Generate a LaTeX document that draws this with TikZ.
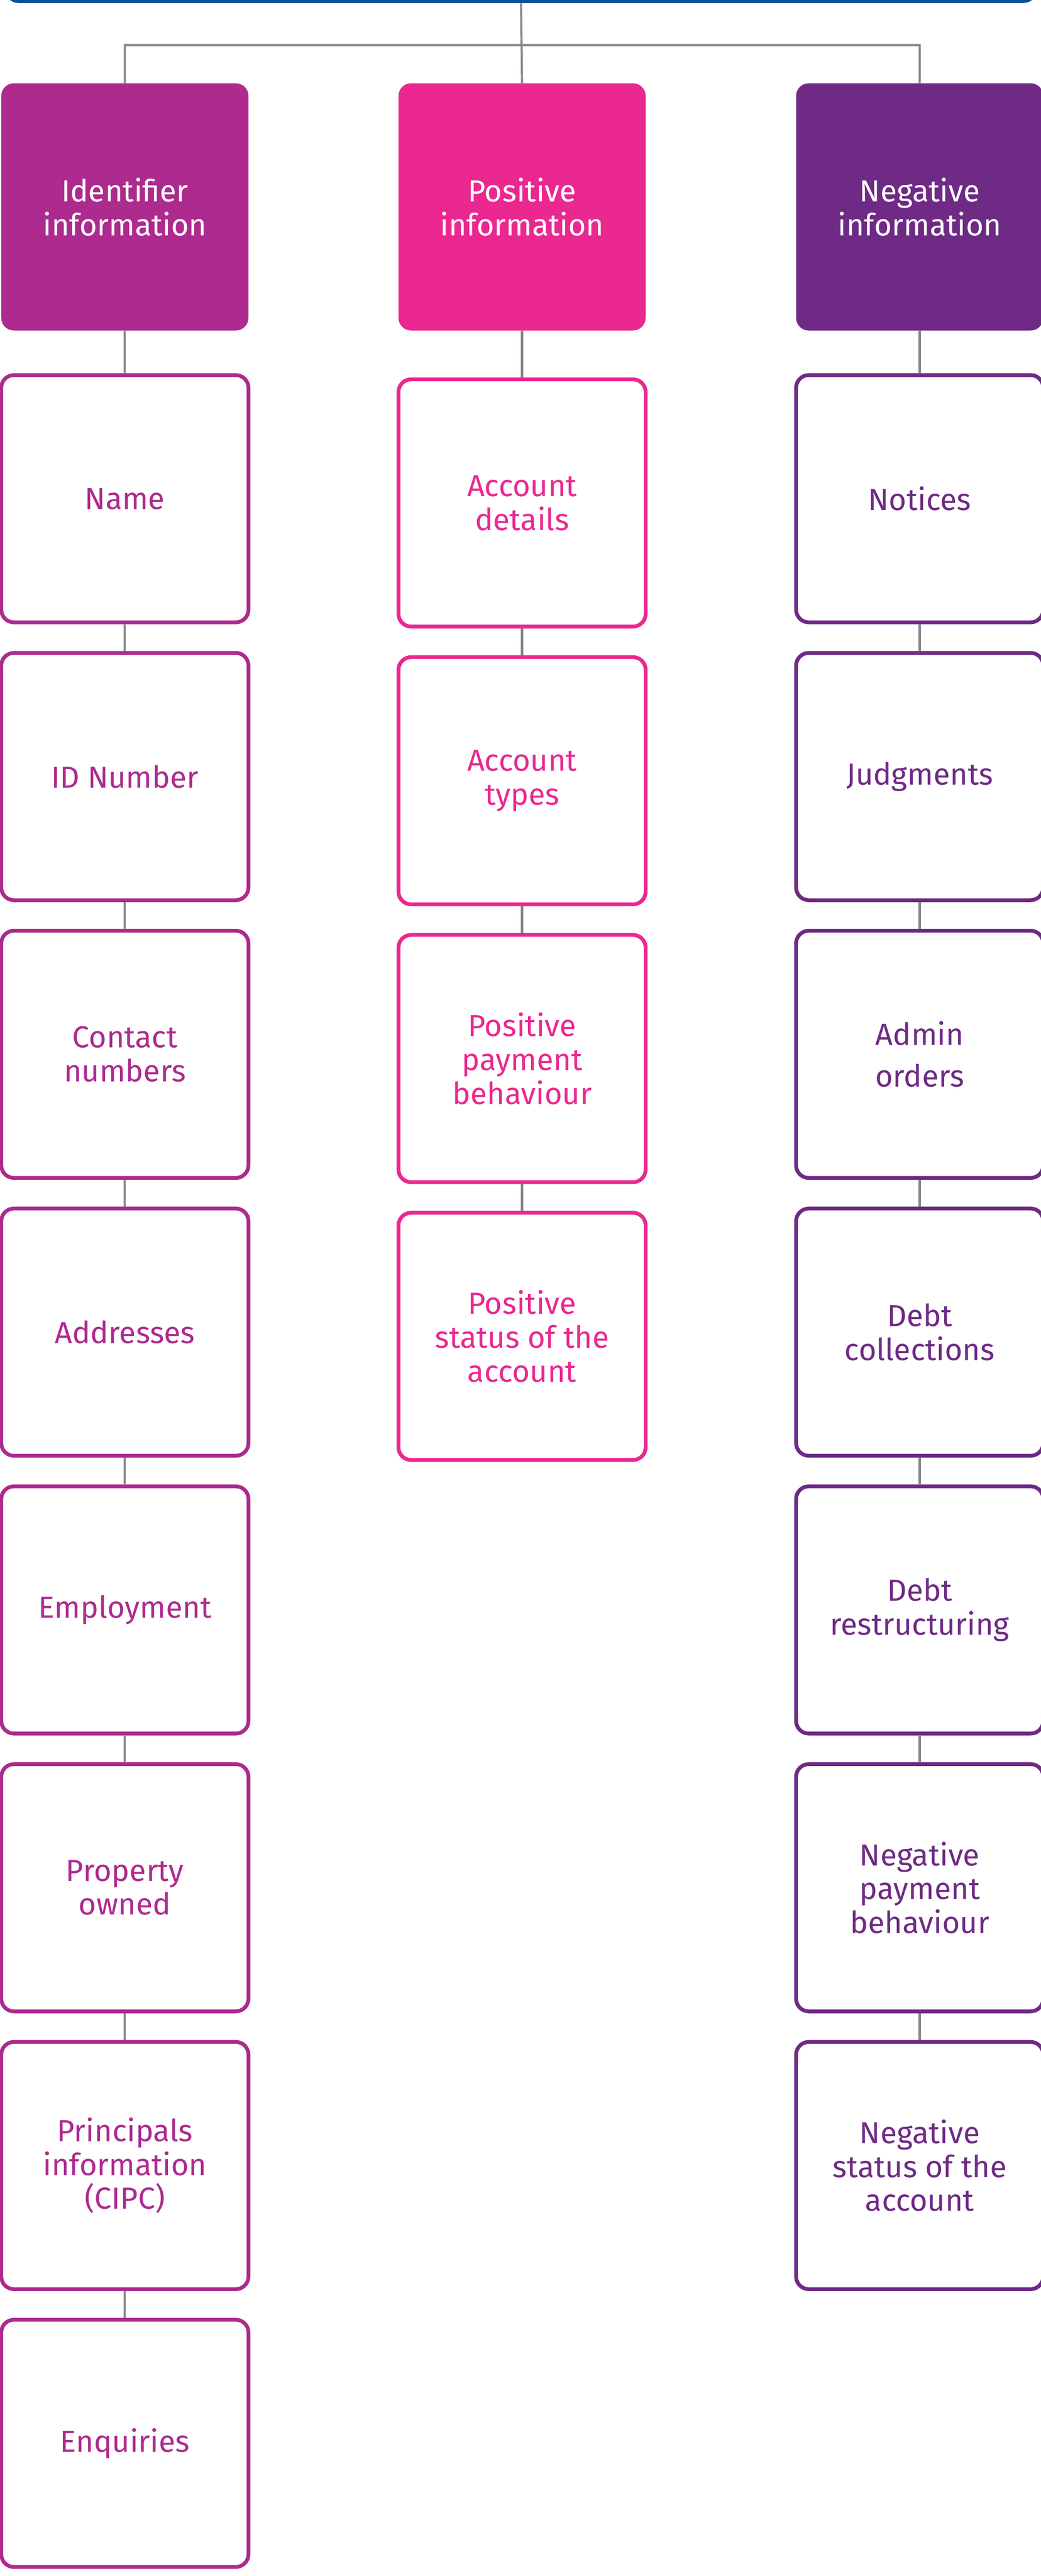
\documentclass[tikz,border=0pt]{standalone}
\usepackage{fontspec}
\setsansfont{Fira Sans}
\usetikzlibrary{positioning}
\definecolor{idcol}{HTML}{AD2A8E}
\definecolor{poscol}{HTML}{EA2890}
\definecolor{negcol}{HTML}{6E2A84}
\definecolor{linecol}{HTML}{88888C}
\definecolor{topcol}{HTML}{0B4F9C}

\begin{document}
\begin{tikzpicture}[font=\sffamily\fontsize{20.5}{22.8}\selectfont,
    head/.style={rectangle, rounded corners=0.3cm,
        minimum width=5.85cm, minimum height=5.85cm,
        outer sep=0pt, text=white, align=center},
    item/.style={rectangle, rounded corners=0.3cm,
        minimum width=5.85cm, minimum height=5.85cm,
        line width=0.09cm, fill=white, align=center},
    idbox/.style={item, draw=idcol, text=idcol},
    posbox/.style={item, draw=poscol, text=poscol},
    negbox/.style={item, draw=negcol, text=negcol},
    connector/.style={draw=linecol, line width=0.05cm}]
    \useasboundingbox (0,0) rectangle (24.63,-60.95);
    % Add the root bar
        \node[rectangle, rounded corners=0.3cm, fill=topcol,
              minimum width=24.4cm, minimum height=1.14cm
              ] (root) at (12.33,0.5) {};
        \coordinate[below=0.99cm of root.south] (split);
    % Add the headers
        \node[head, fill=idcol] (id0) at (2.955,-4.895) {Identifier\\information};
        \node[head, fill=poscol,
              right=3.55cm of id0
              ] (pos0) {Positive\\information};
        \node[head, fill=negcol,
              right=3.56cm of pos0
              ] (neg0) {Negative\\information};
    % Identifier column
        \node[idbox, below=1.01cm of id0] (id1) {Name};
        \node[idbox, below=0.633cm of id1] (id2) {ID Number};
        \node[idbox, below=0.633cm of id2] (id3) {Contact\\numbers};
        \node[idbox, below=0.633cm of id3] (id4) {Addresses};
        \node[idbox, below=0.633cm of id4] (id5) {Employment};
        \node[idbox, below=0.633cm of id5] (id6) {Property\\owned};
        \node[idbox, below=0.633cm of id6] (id7) {Principals\\information\\(CIPC)};
        \node[idbox, below=0.633cm of id7] (id8) {Enquiries};
    % Positive column
        \node[posbox, below=1.11cm of pos0] (pos1) {Account\\details};
        \node[posbox, below=0.633cm of pos1] (pos2) {Account\\types};
        \node[posbox, below=0.633cm of pos2] (pos3) {Positive\\payment\\behaviour};
        \node[posbox, below=0.633cm of pos3] (pos4) {Positive\\status of the\\account};
    % Negative column
        \node[negbox, below=1.01cm of neg0] (neg1) {Notices};
        \node[negbox, below=0.633cm of neg1] (neg2) {Judgments};
        \node[negbox, below=0.633cm of neg2] (neg3) {Admin\\[0.19cm]orders};
        \node[negbox, below=0.633cm of neg3] (neg4) {Debt\\collections};
        \node[negbox, below=0.633cm of neg4] (neg5) {Debt\\restructuring};
        \node[negbox, below=0.633cm of neg5] (neg6) {Negative\\payment\\behaviour};
        \node[negbox, below=0.633cm of neg6] (neg7) {Negative\\status of the\\account};

       \draw[connector]
            (root.south) -- (pos0.north)
            (split) -| (id0)
            (split) -| (neg0);
       \draw[connector]
            (id0) edge (id1)
            (id1) edge (id2)
            (id2) edge (id3)
            (id3) edge (id4)
            (id4) edge (id5)
            (id5) edge (id6)
            (id6) edge (id7)
            (id7) edge (id8)
            (pos0) edge (pos1)
            (pos1) edge (pos2)
            (pos2) edge (pos3)
            (pos3) edge (pos4)
            (neg0) edge (neg1)
            (neg1) edge (neg2)
            (neg2) edge (neg3)
            (neg3) edge (neg4)
            (neg4) edge (neg5)
            (neg5) edge (neg6)
            (neg6) edge (neg7);
\end{tikzpicture}
\end{document}
